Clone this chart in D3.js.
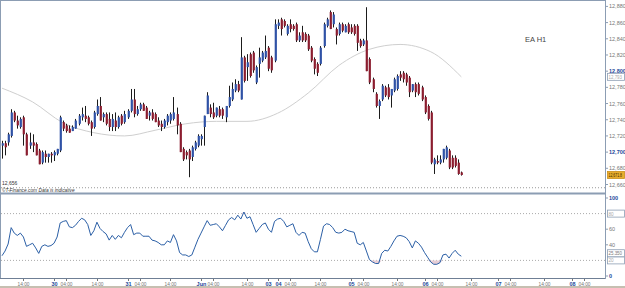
<!DOCTYPE html>
<html>
<head>
<meta charset="utf-8">
<script src="https://cdn.jsdelivr.net/npm/d3@7"></script>
<style>
  html, body { margin: 0; padding: 0; background: #fff; }
  svg { display: block; font-family: "Liberation Sans", Arial, sans-serif; }
</style>
</head>
<body>
<svg id="chart" width="625" height="288"></svg>
<script>
// hourly bars, EA H1 (prices shown x10000)
const opens = [12708,12711,12712,12720,12749,12739,12731,12743,12722,12708,12712,12710,12702,12687,12698,12694,12698,12696,12698,12702,
  12737,12733,12729,12726,12729,12735,12743,12745,12743,12737,12731,12747,12757,12743,12747,12741,12731,12739,12731,12745,
  12737,12743,12751,12765,12747,12753,12759,12755,12745,12749,12747,12739,12735,12731,12737,12739,12741,12747,12735,12704,
  12700,12702,12694,12704,12708,12716,12731,12747,12755,12749,12745,12753,12753,12743,12757,12765,12776,12784,12765,12817,
  12805,12821,12823,12786,12809,12813,12817,12829,12817,12813,12856,12864,12862,12846,12858,12856,12858,12838,12848,12846,
  12844,12829,12815,12809,12809,12831,12856,12873,12858,12852,12846,12858,12848,12858,12854,12856,12856,12838,12833,12838,
  12815,12790,12772,12757,12765,12780,12780,12770,12776,12778,12796,12798,12796,12792,12776,12784,12784,12780,12768,12757,
  12749,12685,12689,12687,12691,12693,12702,12693,12693,12687,12675];
const highs = [12714,12714,12724,12753,12751,12745,12743,12745,12724,12724,12722,12712,12704,12702,12702,12698,12700,12702,12704,12745,
  12739,12735,12733,12733,12741,12747,12755,12757,12745,12739,12751,12765,12768,12749,12749,12749,12747,12749,12745,12747,
  12751,12753,12778,12778,12757,12761,12761,12757,12751,12753,12749,12743,12739,12741,12747,12749,12768,12755,12737,12706,
  12702,12704,12708,12714,12722,12722,12745,12774,12759,12761,12755,12757,12755,12757,12782,12786,12790,12788,12842,12819,
  12821,12823,12825,12807,12829,12825,12844,12831,12819,12864,12864,12866,12864,12858,12864,12858,12860,12848,12856,12848,
  12846,12831,12817,12811,12831,12860,12866,12875,12873,12854,12860,12860,12858,12860,12858,12858,12858,12840,12840,12879,
  12817,12792,12774,12765,12784,12782,12784,12778,12792,12796,12800,12800,12798,12794,12784,12786,12786,12782,12770,12759,
  12751,12693,12696,12696,12704,12708,12704,12696,12696,12691,12676];
const lows = [12692,12696,12708,12718,12737,12729,12729,12708,12696,12704,12700,12696,12685,12685,12687,12687,12687,12689,12696,12700,
  12726,12724,12724,12726,12729,12733,12739,12737,12733,12720,12729,12745,12739,12737,12733,12726,12726,12726,12729,12733,
  12735,12741,12749,12743,12745,12751,12751,12741,12739,12739,12737,12731,12726,12729,12733,12735,12739,12722,12700,12689,
  12691,12669,12689,12702,12706,12708,12708,12747,12743,12741,12743,12743,12741,12737,12755,12763,12774,12774,12765,12786,
  12788,12792,12798,12784,12792,12811,12815,12800,12798,12811,12852,12844,12854,12844,12848,12850,12836,12836,12836,12836,
  12825,12811,12796,12794,12807,12829,12854,12852,12854,12833,12844,12848,12848,12846,12846,12844,12825,12829,12831,12800,
  12784,12774,12755,12741,12763,12768,12765,12755,12774,12776,12788,12786,12782,12768,12774,12768,12770,12763,12747,12739,
  12685,12673,12685,12685,12687,12691,12679,12679,12681,12672,12671];
const closes = [12711,12706,12722,12749,12739,12733,12741,12722,12696,12712,12708,12696,12685,12700,12694,12698,12696,12700,12704,12743,
  12729,12726,12724,12731,12739,12745,12747,12741,12735,12729,12749,12757,12739,12747,12735,12731,12741,12731,12743,12735,
  12747,12751,12765,12747,12753,12759,12751,12741,12749,12741,12737,12733,12731,12739,12745,12747,12749,12733,12700,12691,
  12696,12691,12706,12712,12720,12720,12745,12770,12747,12743,12755,12745,12745,12757,12768,12778,12784,12776,12817,12788,
  12811,12794,12801,12805,12817,12823,12825,12803,12801,12858,12860,12852,12856,12856,12852,12852,12838,12844,12838,12838,
  12827,12813,12803,12798,12829,12858,12864,12852,12870,12844,12858,12850,12856,12848,12848,12846,12835,12831,12838,12800,
  12786,12778,12757,12763,12782,12770,12768,12778,12790,12794,12792,12790,12786,12774,12784,12774,12772,12765,12749,12741,
  12687,12691,12687,12691,12704,12706,12681,12681,12683,12673,12671.8];

// moving average, read at every 10th bar
const maBars = [0,10,20,30,40,50,60,70,80,90,100,110,120,130,140,150];
const maValues = [12779,12762,12736,12724,12720,12727,12735,12738,12738,12748,12773,12807,12827,12833,12824,12793];

// oscillator (lower panel), one value per bar
const oscValues = [26,32,41,62,55,52,55,50,38,40,42,36,29,38,40,38,39,42,50,68,
  70,71,63,62,65,70,74,72,66,52,58,69,61,57,54,46,52,47,52,49,
  56,62,66,53,55,55,51,51,51,46,45,43,40,40,45,43,53,45,30,27,
  27,25,27,37,47,55,63,71,65,66,67,63,58,65,72,75,72,78,73,82,
  74,76,66,56,61,66,68,60,56,70,73,74,70,63,65,67,56,52,56,55,
  44,35,31,31,47,64,67,66,62,56,55,56,60,58,57,56,42,40,43,32,
  21,18,16,16,29,33,32,38,45,51,52,51,49,44,36,45,42,37,30,24,
  18,15,15,17,27,28,23,29,33,28,25.35];

const priceTicks = [12880,12860,12840,12820,12800,12780,12760,12740,12720,12700,12680,12660];
const oscTicks = [100,60,40,0];
const oscLevels = [80,20];
const timeSlots  = [7,17,21,31,41,45,55,65,69,80,87,90,94,104,114,118,129,138,142,153,162,166,177,186,190];
const timeLabels = ['14:00','30','04:00','14:00','31','04:00','14:00','Jun','04:00','14:00','03','04','04:00','14:00','05','04:00','14:00','06','04:00','14:00','07','04:00','14:00','08','04:00'];
const lowMark = 12656;

const svg = d3.select('#chart');
const axisX = 605;
const frame = '#8c9db3';

const x = d3.scaleLinear().domain([0, 190]).range([2, 583.8]);
const y = d3.scaleLinear().domain([12660, 12880]).range([184.5, 6.4]);
const yo = d3.scaleLinear().domain([0, 100]).range([276, 198]);

svg.append('rect').attr('width', 625).attr('height', 288).attr('fill', '#fff');

// frames
svg.append('line').attr('x1', 0).attr('x2', axisX).attr('y1', 0.5).attr('y2', 0.5).attr('stroke', frame);
svg.append('line').attr('x1', 0.5).attr('x2', 0.5).attr('y1', 0).attr('y2', 279).attr('stroke', frame);
svg.append('rect').attr('x', 0).attr('y', 192.5).attr('width', axisX).attr('height', 2).attr('fill', frame);
svg.append('line').attr('x1', 0).attr('x2', axisX).attr('y1', 278.5).attr('y2', 278.5).attr('stroke', '#6f7f95');
svg.append('line').attr('x1', axisX + 0.5).attr('x2', axisX + 0.5).attr('y1', 0).attr('y2', 279).attr('stroke', frame);
svg.append('rect').attr('x', 0).attr('y', 286).attr('width', 625).attr('height', 2).attr('fill', '#c6bfb1');

// low marker line
svg.append('line').attr('x1', 1).attr('x2', axisX).attr('y1', y(lowMark)).attr('y2', y(lowMark))
  .attr('stroke', '#999').attr('stroke-dasharray', '1,2');
svg.append('text').attr('x', 2).attr('y', y(lowMark) - 2.5).attr('font-size', 5).attr('fill', '#333').text(d3.format(',')(lowMark));
svg.append('text').attr('x', 2).attr('y', 191.8).attr('font-size', 4.8).attr('font-style', 'italic').attr('fill', '#333')
  .text('©T-Finance.com   Data is indicative');

// moving average
const maLine = d3.line().x((d, i) => x(maBars[i])).y(d => y(d)).curve(d3.curveMonotoneX);
svg.append('path').datum(maValues).attr('d', maLine).attr('fill', 'none').attr('stroke', '#cfcfcf').attr('stroke-width', 1);

// candles
const bars = closes.map((c, i) => ({i: i, o: opens[i], h: highs[i], l: lows[i], c: c}));
const g = svg.append('g');
g.selectAll('line.wick').data(bars).join('line')
  .attr('class', 'wick')
  .attr('x1', d => Math.round(x(d.i)) + 0.5).attr('x2', d => Math.round(x(d.i)) + 0.5)
  .attr('y1', d => y(d.h)).attr('y2', d => y(d.l))
  .attr('stroke', '#1b1b1b').attr('stroke-width', 1);
g.selectAll('rect.body').data(bars).join('rect')
  .attr('class', 'body')
  .attr('x', d => Math.round(x(d.i)) - 0.3).attr('width', 2.2)
  .attr('y', d => y(Math.max(d.o, d.c)))
  .attr('height', d => Math.max(1, Math.abs(y(d.o) - y(d.c))))
  .attr('fill', d => d.c >= d.o ? '#2f52a6' : '#8b1d2f');

svg.append('text').attr('x', 525).attr('y', 42).attr('font-size', 7.5).attr('fill', '#444').text('EA H1');

// price axis
priceTicks.forEach(function(p){
  const bold = p % 100 === 0;
  svg.append('line').attr('x1', axisX).attr('x2', axisX + 3).attr('y1', y(p)).attr('y2', y(p)).attr('stroke', frame);
  svg.append('text').attr('x', axisX + 4).attr('y', y(p) + 2).attr('font-size', 5.5)
    .attr('font-weight', bold ? 'bold' : 'normal').attr('fill', bold ? '#23479a' : '#777')
    .text(d3.format(',')(p));
});

function valueBox(yy, txt, fill, stroke, color){
  svg.append('rect').attr('x', axisX + 2.5).attr('y', yy - 3.5).attr('width', 17).attr('height', 7)
    .attr('fill', fill).attr('stroke', stroke).attr('stroke-width', 0.8);
  const t = svg.append('text').attr('x', axisX + 3.5).attr('y', yy + 2).attr('font-size', 4.6).attr('fill', color).text(txt);
  if (txt.length > 5) {
    t.attr('textLength', 13.5).attr('lengthAdjust', 'spacingAndGlyphs');
  }
}
valueBox(y(maValues[maValues.length - 1]), d3.format(',')(maValues[maValues.length - 1]), '#fff', '#8c9db3', '#aaa');
valueBox(y(closes[closes.length - 1]), d3.format(',.1f')(closes[closes.length - 1]), '#e9ad2c', '#c98f1a', '#3a2a00');

// oscillator panel
oscLevels.forEach(function(v){
  svg.append('line').attr('x1', 1).attr('x2', axisX).attr('y1', yo(v)).attr('y2', yo(v))
    .attr('stroke', '#aaa').attr('stroke-dasharray', '1,2');
});

const under = d3.area().x((d, i) => x(i)).y0(yo(20)).y1(d => yo(Math.min(d, 20)));
const over = d3.area().x((d, i) => x(i)).y0(yo(80)).y1(d => yo(Math.max(d, 80)));
svg.append('path').datum(oscValues).attr('d', under).attr('fill', '#e6cdd6');
svg.append('path').datum(oscValues).attr('d', over).attr('fill', '#e6cdd6');

const oscLine = d3.line().x((d, i) => x(i)).y(d => yo(d));
svg.append('path').datum(oscValues).attr('d', oscLine).attr('fill', 'none')
  .attr('stroke', '#2b5fa6').attr('stroke-width', 1);

oscTicks.forEach(function(v){
  svg.append('line').attr('x1', axisX).attr('x2', axisX + 3).attr('y1', yo(v)).attr('y2', yo(v)).attr('stroke', frame);
  svg.append('text').attr('x', axisX + 4).attr('y', yo(v) + 2).attr('font-size', 5.5)
    .attr('font-weight', v === 100 || v === 0 ? 'bold' : 'normal')
    .attr('fill', v === 100 || v === 0 ? '#23479a' : '#777').text(v);
});
valueBox(yo(80), '80', '#fff', '#8c9db3', '#aaa');
valueBox(yo(20), '20', '#fff', '#8c9db3', '#aaa');
valueBox(yo(oscValues[oscValues.length - 1]) - 3, d3.format('.3f')(oscValues[oscValues.length - 1]), '#fff', '#8c9db3', '#777');

// time axis
timeSlots.forEach(function(s, i){
  const lbl = timeLabels[i];
  const day = lbl.indexOf(':') < 0;
  const xx = Math.round(x(s)) + 0.5;
  svg.append('line').attr('x1', xx).attr('x2', xx).attr('y1', 279).attr('y2', 281).attr('stroke', '#777');
  svg.append('text').attr('x', xx).attr('y', 285.5).attr('text-anchor', 'middle').attr('font-size', day ? 5.5 : 4.8)
    .attr('font-weight', day ? 'bold' : 'normal').attr('fill', day ? '#23479a' : '#777').text(lbl);
});
</script>
</body>
</html>
